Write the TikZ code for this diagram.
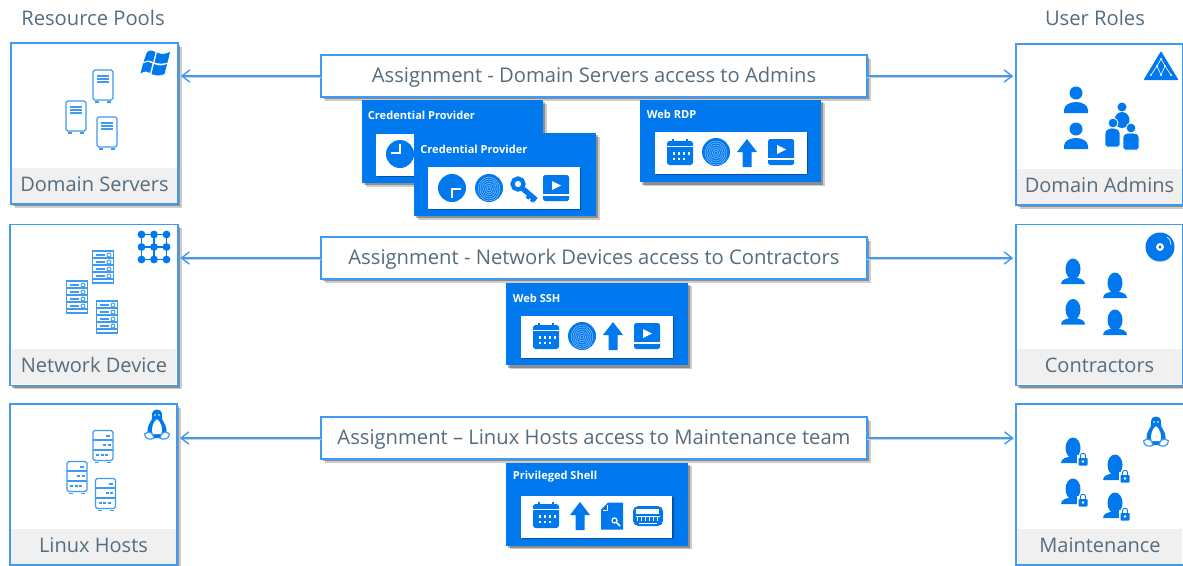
\documentclass[tikz,border=0pt]{standalone}
\usepackage{fontspec}
\setmainfont{Open Sans}
\usetikzlibrary{arrows.meta,shadows}

\definecolor{iconblue}{HTML}{0078EE}
\definecolor{lineblue}{HTML}{3F9BF2}
\definecolor{slatetext}{HTML}{566C7C}
\definecolor{bandgray}{HTML}{F0F0F0}

\tikzset{
    softshadow/.style={drop shadow={shadow xshift=2.2pt,shadow yshift=-2.2pt,fill=black,opacity=.2},drop shadow={shadow xshift=1.2pt,shadow yshift=-1.2pt,fill=black,opacity=.3}},
    poolbox/.style={draw=lineblue,line width=0.9pt,fill=white,softshadow,inner sep=0,outer sep=0,minimum width=3.35cm,minimum height=3.22cm},
    bandlabel/.style={fill=bandgray,anchor=south,text=slatetext,inner sep=0,text height=8.6pt,text depth=1.8pt,minimum width=3.3cm,minimum height=0.7cm,yshift=0.02cm,font=\fontsize{11.4}{12}\selectfont},
    headlabel/.style={text=slatetext,inner sep=0,font=\fontsize{11.5}{12}\selectfont},
    assignbox/.style={draw=lineblue,line width=0.9pt,fill=white,softshadow,text=slatetext,inner sep=0,outer sep=0,text height=9pt,text depth=1.5pt,minimum width=10.92cm,minimum height=0.84cm,font=\fontsize{11.5}{12}\selectfont},
    assignline/.style={draw=lineblue,line width=0.8pt,shorten >=1.5pt,-{Straight Barb[length=4.5pt,width=7pt]},preaction={draw=black!18,-,transform canvas={yshift=-0.9pt}}},
    bluecard/.style={fill=iconblue,softshadow,inner sep=0,outer sep=0,minimum width=3.63cm,minimum height=1.66cm},
    whitepanel/.style={fill=white,drop shadow={shadow xshift=0.8pt,shadow yshift=-0.8pt,fill=black,opacity=.3},inner sep=0,outer sep=0,minimum width=3.04cm,minimum height=0.84cm},
    cardtitle/.style={text=white,anchor=west,inner sep=0,font=\fontsize{6.3}{7}\bfseries\selectfont},
    towerpic/.pic={
        \draw[lineblue,line width=0.7pt,rounded corners=1pt] (-10,-15) rectangle (10,15);
        \foreach \i in {-9,-6,-3}{
            \draw[lineblue,line width=0.7pt] (-6,\i) -- (6,\i);
        }
        \foreach \i in {-8,4}{
            \draw[lineblue,line width=0.6pt] (\i,17) -- (\i+4,17);
        }
    },
    rackpic/.pic={
        \draw[lineblue,line width=0.7pt] (-10.5,-16) rectangle (10.5,16);
        \foreach \i in {-9,-2,5,12}{
            \draw[lineblue,line width=0.6pt] (-10.5,\i) -- (10.5,\i);
            \draw[lineblue,line width=0.6pt] (-7,\i-3) -- (2,\i-3);
            \draw[lineblue,line width=0.5pt] (6,\i-3) circle [radius=2];
        }
    },
    hostpic/.pic={
        \draw[lineblue,line width=0.7pt,rounded corners=1pt] (-10,-15.5) rectangle (10,14.5);
        \foreach \i in {-6,4}{
            \draw[lineblue,line width=0.7pt] (-10,\i) -- (10,\i);
        }
        \draw[lineblue,line width=0.8pt] (3,-10) -- (7,-10);
        \draw[lineblue,line width=0.8pt] (0,-1) -- (3,-1) (4.5,-1) -- (7.5,-1);
        \foreach \i in {-7,-2.5,2}{
            \draw[lineblue,line width=0.8pt] (\i,9) -- (\i+3,9);
        }
        \foreach \i in {-8,4}{
            \draw[lineblue,line width=0.6pt] (\i,16.5) -- (\i+4,16.5);
        }
    },
    winpic/.pic={
        \fill[iconblue] (-9,-11) .. controls (-6,-13) and (-3,-13) .. (-0.5,-11) -- (-3,-1) .. controls (-6,-3) and (-9,-3) .. (-12.5,-1) -- cycle;
        \fill[iconblue] (1,-10.5) .. controls (5,-8.5) and (9,-8.5) .. (14,-11) -- (11.5,-0.5) .. controls (7,1) and (3,1) .. (-1.5,-0.5) -- cycle;
        \fill[iconblue] (-13,0.5) .. controls (-9,-1.5) and (-6,-1.5) .. (-3.5,0.5) -- (-6,10) .. controls (-9,8) and (-12,8) .. (-15.5,10.5) -- cycle;
        \fill[iconblue] (-2,1) .. controls (2,3) and (7,3) .. (11,1) -- (8.5,11) .. controls (4,13) and (0,13) .. (-4.5,11) -- cycle;
    },
    gridpic/.pic={
        \foreach \i in {-12.5,0,12.5}{
            \draw[iconblue,line width=1pt] (-12.5,\i) -- (12.5,\i);
            \draw[iconblue,line width=1pt] (\i,-12.5) -- (\i,12.5);
            \foreach \j in {-12.5,0,12.5}{
                \fill[iconblue] (\i,\j) circle [radius=3.9];
            }
        }
    },
    penguinpic/.pic={
        \fill[iconblue] (0,-15.5) .. controls (-6,-15.5) and (-5,-9) .. (-5,-6) .. controls (-7,-2) and (-11,2) .. (-9,10) -- (-3,13) -- (3,13) -- (9,10) .. controls (11,2) and (7,-2) .. (5,-6) .. controls (5,-9) and (6,-15.5) .. (0,-15.5) -- cycle;
        \fill[white] (0,-6) .. controls (-4,-3) and (-6,3) .. (-4.5,9) -- (4.5,9) .. controls (6,3) and (4,-3) .. (0,-6) -- cycle;
        \draw[lineblue,line width=0.7pt,fill=white] (-12.5,9) .. controls (-8,5) and (-4,8) .. (-3,13) .. controls (-6,15.5) and (-12.5,14) .. (-12.5,9) -- cycle;
        \draw[lineblue,line width=0.7pt,fill=white] (12.5,9) .. controls (8,5) and (4,8) .. (3,13) .. controls (6,15.5) and (12.5,14) .. (12.5,9) -- cycle;
        \fill[white] (-2,-10) circle [radius=0.9] (2,-10) circle [radius=0.9];
    },
    triadpic/.pic={
        \fill[iconblue,rounded corners=0.5pt] (0,-15) -- (17.5,14) -- (-17.5,14) -- cycle;
        \draw[white,line width=0.35pt] (0,-7) -- (-4,0) -- (-10,9) (0,-7) -- (4,0) -- (10,9) (-4,0) -- (0,9) -- (4,0);
        \foreach \i/\j in {0/-7,-4/0,4/0,-10/9,0/9,10/9}{
            \fill[white] (\i,\j) circle [radius=1.2];
        }
    },
    discpic/.pic={
        \fill[iconblue] (0,0) circle [radius=14.5];
        \fill[white] (0,0) circle [radius=4];
        \fill[iconblue] (0,0) circle [radius=1.6];
        \draw[white,line width=0.35pt] (7,-10) .. controls (10,-8) and (11,-5) .. (11,-2);
    },
    userpic/.pic={
        \fill[iconblue] (0,-2) ellipse [x radius=7.5,y radius=10.5];
        \fill[iconblue] (-3.5,4) rectangle (3.5,10);
        \fill[iconblue] (-12,13) .. controls (-12,8) and (-6,7.5) .. (-3,6.5) -- (3,6.5) .. controls (6,7.5) and (12,8) .. (12,13) -- cycle;
    },
    lockuserpic/.pic={
        \pic {userpic};
        \draw[white,line width=0.6pt,fill=white] (5,6) rectangle (15,16);
        \draw[iconblue,line width=0.5pt] (7.5,8) -- (7.5,5.5) .. controls (7.5,2.5) and (12.5,2.5) .. (12.5,5.5) -- (12.5,8);
        \fill[iconblue,rounded corners=0.5pt] (5.5,8) rectangle (14.5,15.5);
        \fill[white] (10,11.5) circle [radius=1.3];
    },
    adminpic/.pic={
        \fill[iconblue] (0,-7) circle [radius=6.5];
        \fill[iconblue] (-12,13) -- (-12,10) .. controls (-12,5) and (-6,2) .. (0,2) .. controls (6,2) and (12,5) .. (12,10) -- (12,13) -- cycle;
    },
    grouppic/.pic={
        \fill[iconblue] (0,-21) circle [radius=4.5];
        \fill[iconblue] (0,-8) ellipse [x radius=7.5,y radius=8];
        \draw[white,line width=0.5pt,fill=iconblue,rounded corners=1pt] (-17,19) -- (-17,7) .. controls (-17,2) and (-14,0) .. (-9.5,0) .. controls (-5,0) and (-2,2) .. (-2,7) -- (-2,19) -- cycle;
        \draw[white,line width=0.5pt,fill=iconblue] (-9,-5) circle [radius=5];
        \draw[white,line width=0.5pt,fill=iconblue,rounded corners=1pt] (1,22) -- (1,11) .. controls (1,6) and (4,5) .. (9,5) .. controls (14,5) and (17,6) .. (17,11) -- (17,22) -- cycle;
        \draw[white,line width=0.5pt,fill=iconblue] (9,0) circle [radius=5];
    },
    clockpic/.pic={
        \fill[iconblue] (0,0) circle [radius=14];
        \draw[white,line width=0.6pt] (0,10) -- (0,1) -- (9,1);
    },
    printpic/.pic={
        \fill[iconblue] (0,0) circle [radius=14];
        \foreach \i in {2,4,6,8,10,12}{
            \draw[white,opacity=.7,line width=0.2pt] (0,1) ellipse [x radius=\i*0.9,y radius=\i];
        }
    },
    keypic/.pic={
        \draw[iconblue,line width=2.4pt] (-5,-4) circle [radius=5.5];
        \draw[iconblue,line width=3pt] (-1,0) -- (13,12);
        \draw[iconblue,line width=2pt] (7,7) -- (4,10.5) (11,10.5) -- (8,13.5);
    },
    playpic/.pic={
        \fill[iconblue,rounded corners=1pt] (-13,-13) rectangle (13,13);
        \fill[white] (-4,-7) -- (5,-2.5) -- (-4,2) -- cycle;
        \fill[white] (-13,6) rectangle (13,7.5);
    },
    calpic/.pic={
        \fill[iconblue,rounded corners=1.5pt] (-13,-11) rectangle (13,13);
        \fill[white] (-13,-6) rectangle (13,-5);
        \foreach \i in {-7,7}{
            \draw[iconblue,line width=0.8pt] (\i,-13) -- (\i,-10);
        }
        \foreach \i in {-7.5,-2.5,2.5,7.5}{
            \fill[white] (\i,0) rectangle (\i+2.6,2.6);
        }
        \foreach \i in {-7.5,-2.5,2.5}{
            \fill[white] (\i,5.5) rectangle (\i+2.6,8.1);
        }
    },
    uparrowpic/.pic={
        \fill[iconblue] (0,-14) -- (10,-1) -- (4.5,-1) -- (4.5,14) -- (-4.5,14) -- (-4.5,-1) -- (-10,-1) -- cycle;
    },
    docpic/.pic={
        \fill[iconblue] (-4,-13.5) -- (11,-13.5) -- (11,13.5) -- (-11,13.5) -- (-11,-6.5) -- cycle;
        \draw[white,line width=0.4pt] (-5,-11) -- (-5,-6) -- (-9,-6);
        \draw[white,line width=0.7pt] (2.5,4.5) circle [radius=2.5];
        \draw[white,line width=0.9pt] (4.5,6.5) -- (8,10);
    },
    shellpic/.pic={
        \fill[iconblue,rounded corners=3pt] (-15,-10) rectangle (15,10);
        \fill[white] (-12,-7) rectangle (11,-2.5);
        \draw[white,line width=0.4pt] (-12,0) -- (12,0);
        \foreach \i in {-11,-7,-3,1,5,9}{
            \draw[white,line width=0.5pt] (\i,0) -- (\i,5);
        }
        \draw[white,line width=0.4pt] (-9,7) -- (9,7);
    },
}

\begin{document}
\begin{tikzpicture}[x=0.02cm,y=-0.02cm]
    \useasboundingbox (0,0) rectangle (1183,565);

    \node[headlabel] (resourcepools) at (93,18) {Resource Pools};
    \node[headlabel] (userroles) at (1095,18) {User Roles};

    \node[poolbox] (domainservers) at (94.5,123.5) {};
    \node[poolbox] (networkdevice) at (94,305) {};
    \node[poolbox] (linuxhosts) at (93.5,484.5) {};
    \node[poolbox] (domainadmins) at (1099.5,124.5) {};
    \node[poolbox] (contractors) at (1099.5,305) {};
    \node[poolbox] (maintenance) at (1100,484.5) {};

    \node[bandlabel] (domainband) at (domainservers.south) {Domain Servers};
    \node[bandlabel] (networkband) at (networkdevice.south) {Network Device};
    \node[bandlabel] (linuxband) at (linuxhosts.south) {Linux Hosts};
    \node[bandlabel] (adminband) at (domainadmins.south) {Domain Admins};
    \node[bandlabel] (contractorband) at (contractors.south) {Contractors};
    \node[bandlabel] (maintenanceband) at (maintenance.south) {Maintenance};

    \node[assignbox] (assigndomain) at (594,76) {Assignment - Domain Servers access to Admins};
    \node[assignbox] (assignnetwork) at (594,258) {Assignment - Network Devices access to Contractors};
    \node[assignbox] (assignlinux) at (594,438) {Assignment – Linux Hosts access to Maintenance team};

    \draw[assignline] (assigndomain.west) -- (assigndomain.west -| domainservers.east);
    \draw[assignline] (assigndomain.east) -- (assigndomain.east -| domainadmins.west);
    \draw[assignline] (assignnetwork.west) -- (assignnetwork.west -| networkdevice.east);
    \draw[assignline] (assignnetwork.east) -- (assignnetwork.east -| contractors.west);
    \draw[assignline] (assignlinux.west) -- (assignlinux.west -| linuxhosts.east);
    \draw[assignline] (assignlinux.east) -- (assignlinux.east -| maintenance.west);

    \node[bluecard] (credcardback) at (452.5,141.5) {};
    \node[whitepanel] (credpanelback) at (452,155) {};
    \node[cardtitle] (credtitleback) at (367.5,115.5) {Credential Provider};
    \pic at (400,154) [rotate=180] {clockpic};

    \node[bluecard] (credcard) at (505,174.5) {};
    \node[whitepanel] (credpanel) at (504,188) {};
    \node[cardtitle] (credtitle) at (420,149) {Credential Provider};
    \pic at (452,188) {clockpic};
    \pic at (489,188) {printpic};
    \pic at (523,188) {keypic};
    \pic at (556,188) {playpic};

    \node[bluecard] (rdpcard) at (730.5,141) {};
    \node[whitepanel] (rdppanel) at (731,153) {};
    \node[cardtitle] (rdptitle) at (646.5,114.5) {Web RDP};
    \pic at (680,152) {calpic};
    \pic at (716,152) {printpic};
    \pic at (747,153) {uparrowpic};
    \pic at (781,152) {playpic};

    \node[bluecard] (sshcard) at (597,324) {};
    \node[whitepanel] (sshpanel) at (597,337) {};
    \node[cardtitle] (sshtitle) at (512.5,298.5) {Web SSH};
    \pic at (546,336) {calpic};
    \pic at (582,336) {printpic};
    \pic at (613,336) {uparrowpic};
    \pic at (647,336) {playpic};

    \node[bluecard] (shellcard) at (597,504) {};
    \node[whitepanel] (shellpanel) at (596.5,516.5) {};
    \node[cardtitle] (shelltitle) at (512.5,477) {Privileged Shell};
    \pic at (546,515) {calpic};
    \pic at (580,516) {uparrowpic};
    \pic at (612,516) {docpic};
    \pic at (648,516) {shellpic};

    \foreach \i/\j in {103/85,76/116,107/132}{
        \pic at (\i,\j) {towerpic};
    }
    \foreach \i/\j in {103/267,77/297,107/317}{
        \pic at (\i,\j) {rackpic};
    }
    \foreach \i/\j in {103/446,77/477,105.5/494}{
        \pic at (\i,\j) {hostpic};
    }

    \pic at (156,63) {winpic};
    \pic at (154,247) {gridpic};
    \pic at (157,425) {penguinpic};
    \pic at (1156,432) {penguinpic};
    \pic at (1161,66) {triadpic};
    \pic at (1160,247) {discpic};

    \pic at (1076,100) {adminpic};
    \pic at (1076,136) {adminpic};
    \pic at (1122,128) {grouppic};

    \foreach \i/\j in {1073/271,1115/285,1073/311.5,1115/322}{
        \pic at (\i,\j) {userpic};
    }
    \foreach \i/\j in {1073/450,1115/467,1073/491,1115/505}{
        \pic at (\i,\j) {lockuserpic};
    }
\end{tikzpicture}
\end{document}
